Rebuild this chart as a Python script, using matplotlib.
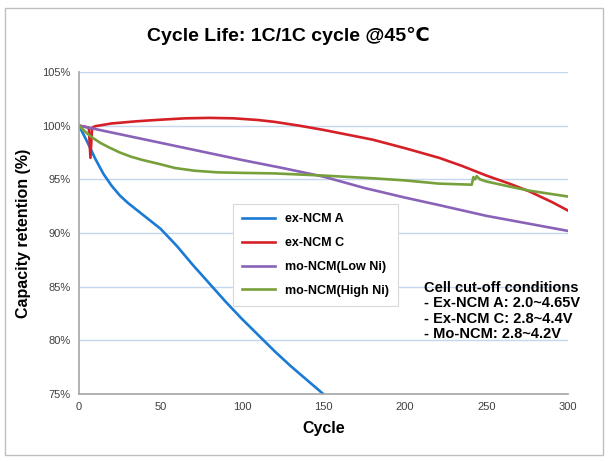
import matplotlib.pyplot as plt
from matplotlib.patches import Rectangle

plt.rcParams['font.family'] = ['Liberation Sans', 'DejaVu Sans']

# ex-NCM A
cyc_a = [0, 5, 10, 15, 20, 25, 30, 40, 50, 60, 70, 80, 90, 100, 110, 120, 130, 140, 150]
cap_a = [100, 98.5, 96.9, 95.5, 94.4, 93.5, 92.8, 91.6, 90.4, 88.8, 87.0, 85.3, 83.6, 82.0,
         80.5, 79.0, 77.6, 76.3, 75.0]

# ex-NCM C (with the early dip)
cyc_c = [0, 5, 6, 7, 8, 10, 20, 35, 50, 65, 80, 95, 110, 120, 135, 150, 165, 180, 200,
         221, 235, 250, 265, 276, 290, 300]
cap_c = [100, 99.85, 99.8, 97.0, 99.8, 99.95, 100.2, 100.4, 100.55, 100.68, 100.72, 100.68,
         100.52, 100.35, 100.0, 99.6, 99.15, 98.7, 97.9, 97.0, 96.25, 95.35, 94.55, 93.9, 92.9, 92.1]

# mo-NCM (Low Ni)
cyc_l = [0, 25, 50, 75, 100, 125, 150, 175, 200, 221, 250, 275, 300]
cap_l = [100, 99.2, 98.4, 97.6, 96.8, 96.05, 95.25, 94.2, 93.3, 92.6, 91.6, 90.9, 90.2]

# mo-NCM (High Ni)
cyc_h = [0, 4, 8, 13, 18, 25, 32, 39, 50, 59, 71, 85, 100, 120, 150, 180, 200, 221, 241,
         242, 243, 244, 246, 250, 262, 276, 300]
cap_h = [100, 99.4, 98.9, 98.4, 98.0, 97.5, 97.1, 96.8, 96.4, 96.05, 95.8, 95.65, 95.6,
         95.55, 95.35, 95.1, 94.9, 94.6, 94.5, 95.2, 95.0, 95.3, 95.0, 94.8, 94.4, 93.95, 93.4]

series = [
    (cyc_a, cap_a, 'ex-NCM A', '#1a7ad4'),
    (cyc_c, cap_c, 'ex-NCM C', '#d62028'),
    (cyc_l, cap_l, 'mo-NCM(Low Ni)', '#8a62b8'),
    (cyc_h, cap_h, 'mo-NCM(High Ni)', '#77a03a'),
]

x_ticks = [0, 50, 100, 150, 200, 250, 300]
y_ticks = [75, 80, 85, 90, 95, 100, 105]

fig = plt.figure(figsize=(6.08, 4.61), dpi=100)
ax = fig.add_axes([0.130, 0.145, 0.804, 0.699])

for x, y, name, color in series:
    ax.plot(x, y, color=color, lw=1.9, label=name, solid_joinstyle='round')

ax.set_xlim(0, 300)
ax.set_ylim(75, 105)
ax.set_xticks(x_ticks)
ax.set_yticks(y_ticks)
ax.set_yticklabels([f'{v}%' for v in y_ticks])
ax.tick_params(length=0, labelsize=8, labelcolor='#404040', pad=6)
ax.grid(axis='y', color='#c5d7ee', lw=1)
ax.set_axisbelow(True)
for s in ['top', 'right']:
    ax.spines[s].set_visible(False)
for s in ['left', 'bottom']:
    ax.spines[s].set_color('#a6a6a6')
    ax.spines[s].set_linewidth(1.2)

ax.set_xlabel('Cycle', fontsize=11.5, fontweight='bold', labelpad=6)
ax.set_ylabel('Capacity retention (%)', fontsize=11.5, fontweight='bold', labelpad=8)

fig.text(0.475, 0.923, 'Cycle Life: 1C/1C cycle @45\u2103', fontsize=14,
         fontweight='bold', ha='center', va='center')

leg = ax.legend(loc='upper left', bbox_to_anchor=(0.302, 0.61),
                prop={'weight': 'bold', 'size': 9}, handlelength=2.6,
                borderpad=0.75, labelspacing=0.95, fancybox=False, framealpha=1,
                edgecolor='#d9d9d9')
leg.get_frame().set_linewidth(0.8)

ax.text(0.705, 0.35, 'Cell cut-off conditions\n- Ex-NCM A: 2.0~4.65V\n'
        '- Ex-NCM C: 2.8~4.4V\n- Mo-NCM: 2.8~4.2V',
        transform=ax.transAxes, fontsize=10.5, fontweight='bold',
        ha='left', va='top', linespacing=1.1)

fig.add_artist(Rectangle((0.008, 0.012), 0.984, 0.97, transform=fig.transFigure,
                         fill=False, edgecolor='#bfbfbf', lw=1))

fig.savefig('out.png', dpi=100)
